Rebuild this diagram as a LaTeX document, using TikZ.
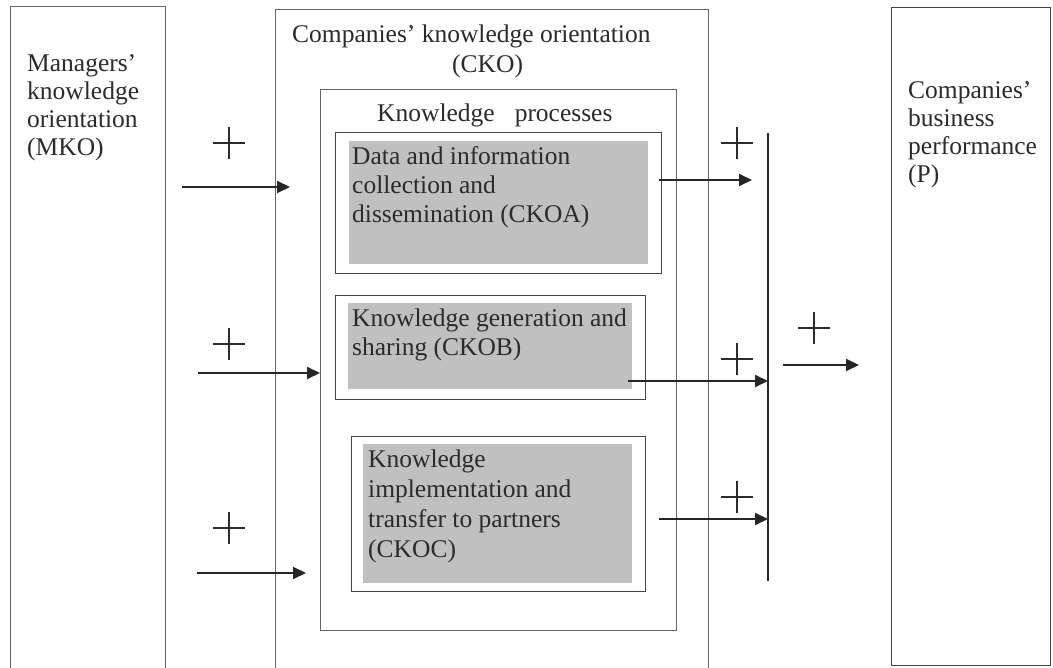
\documentclass[tikz,border=0pt]{standalone}
\usepackage{fontspec}
\setmainfont{Liberation Serif}
\usetikzlibrary{arrows.meta}
\definecolor{txt}{HTML}{2B2B2B}
\definecolor{edgeout}{HTML}{666666}
\definecolor{edgein}{HTML}{444444}
\definecolor{fillg}{HTML}{C0C0C0}
\definecolor{arr}{HTML}{262626}
\begin{document}
\begin{tikzpicture}[x=1pt,y=-1pt,
  lbl/.style={font=\fontsize{25.5}{29}\selectfont, text=txt, inner sep=0pt, align=left, anchor=base west},
  lbltight/.style={lbl, font=\fontsize{25.5}{28}\selectfont},
  frame/.style={draw=edgeout, line width=1pt},
  procbox/.style={draw=edgein, line width=1pt, fill=white, inner sep=0pt, anchor=north west},
  shadebox/.style={fill=fillg, inner sep=0pt, anchor=north west},
  arrowline/.style={draw=arr, line width=2pt, -{Triangle[length=13pt,width=12pt]}},
  plusmark/.style={draw=txt, line width=1.2pt},
  plussign/.pic={\draw[plusmark] (-16,0) -- (16,0) (0,-16) -- (0,16);}
]
\useasboundingbox (0,0) rectangle (1053,668);

% MKO box (open at bottom)
\coordinate (mkobl) at (10,668);
\coordinate (mkotl) at (10,7);
\coordinate (mkotr) at (165,7);
\coordinate (mkobr) at (165,668);
\draw[frame] (mkobl) -- (mkotl) -- (mkotr) -- (mkobr);
\node[lbltight] (mkotext) at (27,156) {Managers’\\knowledge\\orientation\\(MKO)};

% CKO box (open at bottom)
\coordinate (ckobl) at (275,668);
\coordinate (ckotl) at (275,10);
\coordinate (ckotr) at (708,10);
\coordinate (ckobr) at (708,668);
\draw[frame] (ckobl) -- (ckotl) -- (ckotr) -- (ckobr);
\node[lbl] (ckotitle) at (292,43) {Companies’ knowledge orientation};
\node[lbl] (ckoabbr) at (452,73) {(CKO)};

% Knowledge processes box
\node[frame, inner sep=0pt, anchor=north west, minimum width=356pt, minimum height=541pt] (kp) at (320,89) {};
\node[lbl] (kptext) at (377,122) {Knowledge\hspace{20pt}processes};

% Process A
\node[procbox, minimum width=326pt, minimum height=141pt] (boxa) at (335,132) {};
\node[shadebox, minimum width=299pt, minimum height=123pt] (ga) at (349,141) {};
\node[lbl] (ta) at (352,223) {Data and information\\collection and\\dissemination (CKOA)};

% Process B
\node[procbox, minimum width=310pt, minimum height=104pt] (boxb) at (335,295) {};
\node[shadebox, minimum width=284pt, minimum height=86pt] (gb) at (348,303) {};
\node[lbl] (tb) at (352,356) {Knowledge generation and\\sharing (CKOB)};

% Process C
\node[procbox, minimum width=294pt, minimum height=155pt] (boxc) at (351,436) {};
\node[shadebox, minimum width=269pt, minimum height=139pt] (gc) at (363,444) {};
\node[lbl, font=\fontsize{25.5}{30}\selectfont] (tc) at (368,557) {Knowledge\\implementation and\\transfer to partners\\(CKOC)};

% Performance box
\node[draw=edgein, line width=1pt, inner sep=0pt, anchor=north west, minimum width=159pt, minimum height=658pt] (perf) at (891,7) {};
\node[lbltight] (tp) at (908,183) {Companies’\\business\\performance\\(P)};

% Collecting bar
\coordinate (bartop) at (768,133);
\coordinate (barbot) at (768,581);
\draw[draw=arr, line width=2pt] (bartop) -- (barbot);

% Input arrows
\coordinate (in1) at (182,187);
\coordinate (in1e) at (290,187);
\draw[arrowline] (in1) -- (in1e);
\coordinate (in2) at (198,373);
\draw[arrowline] (in2) -- (in2 -| kp.west);
\coordinate (in3) at (197,573);
\coordinate (in3e) at (306,573);
\draw[arrowline] (in3) -- (in3e);

% Output arrows
\coordinate (outa) at (659,180);
\coordinate (outae) at (752,180);
\draw[arrowline] (outa) -- (outae);
\coordinate (outb) at (628,381);
\draw[arrowline] (outb) -- (outb -| bartop);
\coordinate (outc) at (659,519);
\draw[arrowline] (outc) -- (outc -| bartop);
\coordinate (outp) at (783,365);
\coordinate (outpe) at (859,365);
\draw[arrowline] (outp) -- (outpe);

% Plus signs
\pic at (229,143) {plussign};
\pic at (229,344) {plussign};
\pic at (229,528) {plussign};
\pic at (737,143) {plussign};
\pic at (737,359) {plussign};
\pic at (737,497) {plussign};
\pic at (814,328) {plussign};
\end{tikzpicture}
\end{document}
